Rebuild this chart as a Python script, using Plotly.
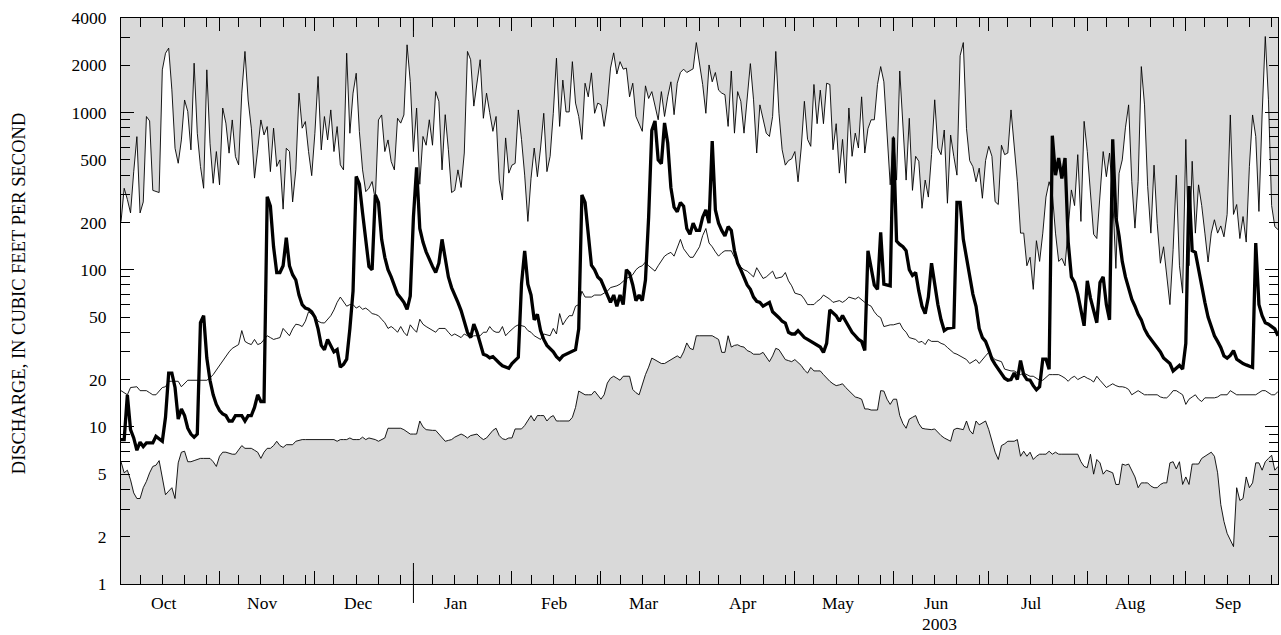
import pandas as pd
import plotly.graph_objects as go

# ---------------- data (water year Oct 2002 - Sep 2003, daily, cubic feet per second) -------------
dates = pd.date_range("2002-10-01", "2003-09-30", freq="D")

daily_2003 = [
    8.3, 8.3, 16, 9.6, 8.5, 7.1, 8.0, 7.5, 7.9, 7.9,
    7.9, 8.7, 8.4, 8.1, 11.5, 22, 22, 17.8, 11.2, 13,
    11.8, 9.8, 9.0, 8.6, 9.0, 46, 51, 27.4, 19.8, 16,
    13.9, 12.7, 12.1, 11.8, 10.9, 10.9, 11.8, 11.8, 11.8, 10.9,
    11.8, 11.8, 13.3, 16, 14.5, 14.5, 291, 254, 140, 96,
    96, 106, 160, 106, 93, 86, 69, 60, 57, 56,
    54, 50, 42, 33, 31, 36, 33, 30, 31, 24,
    25, 27, 42, 73, 392, 351, 230, 150, 105, 100,
    299, 268, 156, 120, 100, 90, 80, 70, 66, 62,
    56, 68, 216, 449, 183, 150, 130, 115, 105, 96,
    110, 156, 115, 90, 77, 68, 62, 55, 46, 40,
    37, 45, 40, 34, 29, 28.5, 27.5, 28, 26.5, 25.5,
    24.5, 24, 23.6, 25.3, 26.5, 27.7, 81, 132, 81, 69,
    48, 52, 41, 36, 33, 31.6, 30, 28, 26.8, 28.3,
    29, 29.9, 30.5, 31, 42, 299, 268, 173, 107, 100,
    90, 86, 77, 68, 62, 69, 58.6, 69, 60, 100,
    95, 80, 63.6, 69, 63.6, 86, 216, 771, 885, 500,
    473, 860, 640, 333, 250, 234, 268, 254, 183, 168,
    198, 178, 178, 216, 240, 198, 658, 240, 198, 178,
    164, 188, 178, 132, 110, 100, 90, 80, 75, 67,
    63, 62, 58.6, 60, 62, 54, 52, 49.5, 47, 45.8,
    40, 39, 39, 41, 39, 37, 36, 35, 34, 33,
    32.2, 29.8, 34, 55.5, 53, 51, 47, 51, 47, 43.5,
    40, 38, 36, 35, 30.6, 132, 100.7, 80, 75, 173,
    81, 80, 79, 695, 152, 145, 140, 132, 100, 92,
    96, 73, 58.6, 52.6, 67, 110, 81, 60, 48, 41,
    42.3, 42.5, 43, 268, 268, 156, 120, 90, 70, 58.6,
    42.3, 37, 35, 31, 27, 25, 23.5, 22, 20.4, 19.8,
    20, 22, 20, 26.4, 21.5, 20, 19.8, 18.3, 17.2, 18,
    27, 27, 23.3, 713, 400, 514, 381, 514, 150, 90,
    83, 70, 55, 44, 85, 66, 55, 46, 83, 90,
    60, 48, 676, 216, 164, 113, 90, 77, 65, 58.6,
    52, 48, 42, 38.5, 36, 34, 31.5, 30, 27.4, 26.3,
    25.3, 22.7, 23.5, 24.6, 23.3, 34, 341, 132, 129, 100,
    75, 62, 50, 43, 38, 35, 32, 28.3, 27.4, 28.5,
    30.6, 27, 26, 25.3, 24.8, 24.4, 23.9, 148, 60, 51,
    46, 45, 43.5, 42, 38,
]

median_q = [
    17, 16.5, 16, 17.8, 18, 18, 17, 17, 17, 16.5,
    16, 16, 17, 17.8, 18, 19.5, 19.5, 19.5, 19.5, 18,
    19, 19.8, 19.8, 19.8, 19.8, 19.8, 19.8, 19.8, 20.5, 21.5,
    23, 24.6, 26.5, 28, 30, 31.6, 32.5, 33.4, 41, 35,
    34, 33.4, 36, 33.4, 34, 36, 38, 37, 36, 36.5,
    37, 42.3, 40, 38, 42, 45, 44.6, 43.5, 47, 54,
    52, 51, 47, 46, 45.8, 48, 51, 55.5, 62, 67,
    62, 58.6, 60, 60, 57, 58.6, 56, 57, 55, 52.6,
    52, 51, 48.4, 46, 42.3, 43.5, 42, 40, 43.5, 40,
    38, 44.6, 42, 40, 48.4, 45, 43.5, 42.3, 41, 40,
    42.3, 42.3, 42.3, 40, 38, 39, 38, 37, 39, 38,
    37, 38, 38, 38, 40, 40, 43.5, 41, 40, 40,
    43.5, 38, 40, 42, 43.5, 44.6, 44, 43.5, 41, 40,
    38, 37, 36, 39, 38.5, 38, 42.3, 39, 52.6, 44.6,
    48, 51, 51, 58.6, 60, 73, 67, 67, 67, 69,
    69, 69, 71, 73, 77, 78, 79, 81, 84, 88,
    90, 93, 100, 104, 106, 112, 106, 102, 98, 106,
    114, 122, 126, 129, 122, 140, 156, 136, 128, 120,
    120, 130, 140, 165, 183, 148, 140, 130, 122, 128,
    132, 132, 132, 120, 112, 104, 100, 98, 94, 90,
    103, 95, 88, 90, 94, 98, 88, 89, 90, 96,
    85, 79, 71, 70, 69, 65, 60, 60, 60, 63,
    65, 69, 67, 65, 62, 63, 63.6, 62, 64, 67,
    66, 65, 67, 64, 62, 60, 58.6, 54, 51, 49.5,
    43.5, 44, 44.6, 44.6, 45, 45.8, 42, 40, 37, 36.5,
    36, 34.5, 35, 33.4, 36, 35, 35, 35, 34, 33.4,
    32, 30.6, 29.5, 29, 28.3, 27.5, 26.8, 25.3, 26, 26.8,
    25.3, 27, 28.3, 29.8, 28, 26.8, 26.5, 26, 23.3, 23,
    22.7, 22.7, 22, 21.5, 22, 21.5, 21, 21, 20.4, 19.8,
    19.8, 20.6, 21.5, 21.5, 21.5, 21.5, 21, 20.4, 19.5, 20.5,
    21, 20, 20.5, 21, 20.4, 20, 19.3, 21, 19.8, 18.8,
    17.8, 18.3, 18.8, 18.3, 18, 18, 17.8, 17.3, 16, 16.5,
    17, 16.5, 16, 16, 16, 16, 16, 15.5, 15.3, 15.3,
    16, 17, 17, 16.5, 16, 13.9, 15, 15.5, 16, 15,
    14.5, 15.3, 15.3, 15.3, 15.3, 15.5, 16, 16, 16, 17,
    16.5, 16, 16, 16, 16, 16, 16, 16, 16.5, 17,
    17, 16.5, 16, 16, 16.8,
]

max_q = [
    202, 330, 280, 230, 420, 703, 230, 270, 944, 885,
    320, 315, 310, 1871, 2387, 2573, 1395, 593, 476, 670,
    1203, 1017, 579, 2063, 739, 454, 330, 1871, 638, 355,
    565, 347, 1069, 857, 552, 898, 525, 465, 1330, 2450,
    1203, 796, 383, 579, 898, 721, 815, 421, 796, 454,
    500, 243, 593, 565, 270, 432, 1330, 796, 877, 565,
    397, 739, 1698, 579, 944, 670, 1040, 565, 815, 465,
    432, 2387, 739, 1330, 1780, 757, 432, 314, 330, 364,
    278, 898, 966, 565, 670, 488, 432, 920, 857, 966,
    2700, 1574, 565, 1069, 350, 705, 620, 900, 620, 1360,
    1180, 432, 970, 580, 310, 320, 432, 334, 553, 2450,
    2170, 1100, 1600, 2170, 920, 1330, 1000, 760, 945, 372,
    278, 690, 412, 463, 475, 1040, 675, 400, 203, 382,
    595, 391, 595, 990, 421, 527, 990, 2220, 817, 1610,
    1010, 1010, 2110, 1150, 945, 675, 1538, 1260, 1790, 990,
    1150, 1120, 817, 1120, 1920, 2400, 1760, 2110, 1890, 1920,
    1260, 1538, 945, 850, 760, 1480, 1230, 1360, 1120, 900,
    1360, 945, 1260, 1570, 970, 1538, 1800, 1890, 1800, 1840,
    1900, 2790, 2010, 1510, 990, 2010, 1570, 1800, 1390, 1330,
    1300, 817, 1840, 740, 1360, 1180, 740, 1300, 2050, 1206,
    553, 1120, 900, 740, 705, 945, 2450, 990, 580, 463,
    495, 508, 565, 363, 595, 1180, 675, 610, 1510, 850,
    1390, 850, 1538, 1510, 580, 850, 412, 675, 355, 1070,
    527, 740, 595, 1260, 553, 790, 900, 900, 1510, 1963,
    1570, 675, 347, 705, 372, 1840, 775, 372, 920, 320,
    527, 490, 246, 372, 290, 540, 1206, 595, 540, 775,
    265, 720, 527, 400, 2300, 2790, 790, 495, 453, 363,
    443, 285, 495, 610, 527, 271, 260, 620, 540, 553,
    1040, 580, 363, 171, 171, 106, 120, 75, 153, 113,
    171, 290, 363, 307, 171, 113, 118, 106, 197, 322,
    256, 540, 203, 880, 565, 307, 168, 158, 307, 565,
    391, 553, 290, 102, 411, 500, 800, 1120, 363, 184,
    363, 1963, 1120, 338, 171, 463, 197, 110, 140, 90,
    60, 134, 400, 106, 71, 675, 106, 490, 171, 347,
    256, 171, 112, 171, 208, 171, 190, 162, 225, 966,
    225, 260, 158, 218, 150, 453, 966, 705, 235, 966,
    3050, 1206, 256, 188, 180,
]

min_q = [
    6.0, 5.1, 5.3, 4.6, 3.8, 3.5, 3.5, 4.1, 4.5, 5.1,
    5.6, 5.7, 6.1, 4.6, 3.7, 3.9, 4.1, 3.5, 5.9, 6.9,
    7.0, 6.0, 6.0, 6.1, 6.2, 6.3, 6.3, 6.3, 6.3, 6.0,
    5.6, 6.5, 6.9, 6.9, 6.8, 6.7, 6.7, 7.2, 7.6, 7.3,
    7.3, 7.3, 7.1, 6.9, 6.3, 6.9, 7.3, 7.3, 7.6, 8.1,
    7.6, 7.4, 7.7, 7.7, 7.7, 8.1, 8.2, 8.3, 8.3, 8.3,
    8.3, 8.3, 8.3, 8.3, 8.3, 8.3, 8.3, 8.3, 8.1, 8.3,
    8.3, 8.3, 8.5, 8.3, 8.3, 8.3, 8.6, 8.3, 8.5, 8.4,
    8.3, 8.1, 8.3, 8.5, 9.8, 9.8, 9.8, 9.8, 9.8, 9.6,
    9.3, 9.0, 9.0, 9.0, 10.9, 10.0, 9.6, 9.5, 9.5, 9.5,
    9.0, 8.5, 8.1, 8.2, 8.3, 8.6, 8.8, 9.0, 8.8, 8.5,
    8.8, 8.9, 9.0, 8.6, 8.3, 8.5, 9.0, 9.5, 9.8, 8.8,
    8.4, 8.3, 8.5, 8.5, 9.7, 9.7, 9.7, 10.2, 10.9, 11.8,
    10.9, 11.8, 11.8, 11.8, 10.9, 11.5, 11.8, 10.9, 10.9, 10.9,
    10.9, 10.9, 11.5, 13.3, 16.9, 16.5, 16, 16, 16, 16.9,
    16, 15, 16, 19, 20.4, 21, 20.4, 19.8, 21, 21,
    21, 17.3, 16.5, 16, 18.8, 21.5, 24, 27.4, 26.7, 26,
    25.3, 25.3, 26, 26.7, 27.5, 28.3, 27.4, 30, 34.2, 31.6,
    31, 38, 38, 38, 38, 38, 38, 37, 36, 29.8,
    29.8, 38, 32.2, 33, 33.3, 32.5, 32.2, 30.6, 30, 29,
    29, 29, 29.8, 28, 26, 28.3, 31.6, 31, 29, 26.8,
    26.4, 26, 26.8, 25.5, 24.6, 23, 22, 23.9, 22.7, 22.7,
    22.7, 21.5, 20.4, 19.5, 18.8, 18.3, 18.5, 18.8, 17.8, 17,
    16, 15.5, 15.3, 15, 13, 13, 12.8, 12.8, 12.8, 17,
    16.9, 15, 13.9, 15, 15, 11.8, 10.5, 9.8, 11.2, 11.5,
    11.8, 10.5, 9.8, 9.7, 9.6, 9.6, 9.7, 9.2, 8.8, 8.5,
    8.3, 8.1, 9.6, 9.8, 9.7, 9.6, 10.9, 9.5, 9.0, 10.9,
    10.3, 10.6, 10.9, 9.6, 8.0, 6.9, 6.2, 7.6, 7.8, 8.1,
    8.1, 8.1, 8.3, 6.5, 7.0, 6.5, 6.9, 6.2, 6.5, 6.7,
    6.7, 6.7, 7.0, 6.7, 6.9, 6.7, 6.7, 6.7, 6.7, 6.7,
    6.7, 6.7, 6.0, 5.6, 5.5, 6.7, 5.0, 6.2, 5.9, 5.0,
    5.3, 5.2, 5.1, 4.3, 4.3, 5.8, 5.7, 5.8, 5.3, 4.8,
    4.1, 4.4, 4.4, 4.4, 4.2, 4.1, 4.1, 4.3, 4.4, 4.4,
    5.9, 6.0, 5.4, 6.0, 4.3, 4.8, 4.3, 5.8, 5.8, 5.8,
    6.3, 6.5, 6.7, 6.9, 6.5, 5.1, 3.2, 2.5, 2.1, 1.9,
    1.73, 4.1, 3.4, 3.5, 4.8, 4.1, 4.4, 5.9, 5.9, 5.3,
    6.0, 6.3, 6.6, 5.3, 5.6,
]

for s in (daily_2003, median_q, max_q, min_q):
    assert len(s) == len(dates), len(s)

# axis / label definitions
Y_MIN, Y_MAX = 1, 4000
labeled_y = [1, 2, 5, 10, 20, 50, 100, 200, 500, 1000, 2000, 4000]
decades = [1, 10, 100, 1000]
month_starts = pd.date_range("2002-10-01", "2003-09-01", freq="MS")
month_names = ["Oct", "Nov", "Dec", "Jan", "Feb", "Mar", "Apr", "May", "Jun", "Jul", "Aug", "Sep"]
YEAR_LABEL = "2003"
YEAR_LABEL_MONTH = "Jun"
YEAR_BOUNDARY = "2003-01-01"
Y_TITLE = "DISCHARGE, IN CUBIC FEET PER SECOND"

FONT = "Liberation Serif"
FS = 17.5
FS_TITLE = 18.5
GRAY = "#d9d9d9"

# ---------------- figure ----------------
W, H = 1281, 635
ML, MR, MT, MB = 121, 3, 18, 51
PH = H - MT - MB
PW = W - ML - MR

fig = go.Figure()

fig.add_trace(go.Scatter(x=dates, y=min_q, mode="lines",
                         line=dict(color="black", width=0.9), hoverinfo="skip"))
fig.add_trace(go.Scatter(x=dates, y=max_q, mode="lines", fill="tonexty",
                         fillcolor="white", line=dict(color="black", width=0.9),
                         hoverinfo="skip"))
fig.add_trace(go.Scatter(x=dates, y=median_q, mode="lines",
                         line=dict(color="black", width=0.9), hoverinfo="skip"))
fig.add_trace(go.Scatter(x=dates, y=daily_2003, mode="lines",
                         line=dict(color="black", width=3.3), hoverinfo="skip"))
fig.add_trace(go.Scatter(x=[dates[0]], y=[Y_MIN], yaxis="y2", mode="lines",
                         line=dict(width=0), hoverinfo="skip", showlegend=False))

all_yticks = [k * d for d in decades for k in range(1, 10) if k * d <= Y_MAX]
ytext = [str(v) if v in labeled_y else "" for v in all_yticks]

minor_x = [pd.Timestamp(m.year, m.month, dd) for m in month_starts for dd in (7, 14, 21, 28)]

fig.update_layout(
    width=W, height=H,
    margin=dict(l=ML, r=MR, t=MT, b=MB, pad=0, autoexpand=False),
    paper_bgcolor="white",
    plot_bgcolor=GRAY,
    showlegend=False,
    font=dict(family=FONT, size=FS, color="black"),
    xaxis=dict(
        type="date",
        range=[dates[0], dates[-1]],
        automargin=False,
        showgrid=False, zeroline=False,
        showline=True, linecolor="black", linewidth=1, mirror="ticks",
        tickmode="array", tickvals=list(month_starts), ticktext=[""] * len(month_starts),
        ticks="inside", ticklen=13, tickwidth=1, tickcolor="black",
        showticklabels=False,
        minor=dict(tickmode="array", tickvals=minor_x, ticks="inside", ticklen=9,
                   tickwidth=1, tickcolor="black", showgrid=False),
    ),
    yaxis=dict(
        type="log",
        range=[0, 3.60206],
        automargin=False,
        showgrid=False, zeroline=False,
        showline=True, linecolor="black", linewidth=1, mirror="ticks",
        tickmode="array", tickvals=all_yticks, ticktext=ytext,
        ticks="inside", ticklen=9, tickwidth=1, tickcolor="black",
        ticklabelstandoff=10,
        tickfont=dict(family=FONT, size=FS),
    ),
    yaxis2=dict(
        type="log",
        range=[0, 3.60206],
        automargin=False,
        overlaying="y", side="left",
        showgrid=False, zeroline=False, showline=False, mirror="ticks",
        tickmode="array", tickvals=decades, ticks="inside", ticklen=13,
        tickwidth=1, tickcolor="black", showticklabels=False,
    ),
)

ann = []
for m, name in zip(month_starts, month_names):
    xm = m + pd.Timedelta(days=13, hours=12)
    ann.append(dict(x=xm, y=-(603 - (H - MB)) / PH, xref="x", yref="paper",
                    text=name, showarrow=False, xanchor="center", yanchor="middle",
                    font=dict(family=FONT, size=FS)))
    if name == YEAR_LABEL_MONTH:
        ann.append(dict(x=xm + pd.Timedelta(days=1), y=-(624 - (H - MB)) / PH, xref="x", yref="paper",
                        text=YEAR_LABEL, showarrow=False, xanchor="center", yanchor="middle",
                        font=dict(family=FONT, size=FS)))
ann.append(dict(x=-(ML - 19) / PW, y=0.512, xref="paper", yref="paper",
                text=Y_TITLE, textangle=-90, showarrow=False,
                xanchor="center", yanchor="middle", font=dict(family=FONT, size=FS_TITLE)))
fig.update_layout(annotations=ann)

fig.add_shape(type="line", xref="x", yref="paper", x0=YEAR_BOUNDARY, x1=YEAR_BOUNDARY,
              y0=-19 / PH, y1=21 / PH, line=dict(color="black", width=1))
fig.add_shape(type="line", xref="x", yref="paper", x0=YEAR_BOUNDARY, x1=YEAR_BOUNDARY,
              y0=1 - 19 / PH, y1=1, line=dict(color="black", width=1))

# remove the browser's default page margin so the figure sits at the window's top-left corner
page_fix = (
    "document.documentElement.style.margin='0';document.documentElement.style.padding='0';"
    "document.body.style.margin='0';document.body.style.padding='0';"
    "document.body.style.overflow='hidden';"
    "var gd=document.getElementById('{plot_id}');"
    "Plotly.relayout(gd,{width:%d,height:%d});" % (W, H)
)

fig.write_html("out.html", post_script=page_fix,
               config={"displayModeBar": False, "staticPlot": True})
